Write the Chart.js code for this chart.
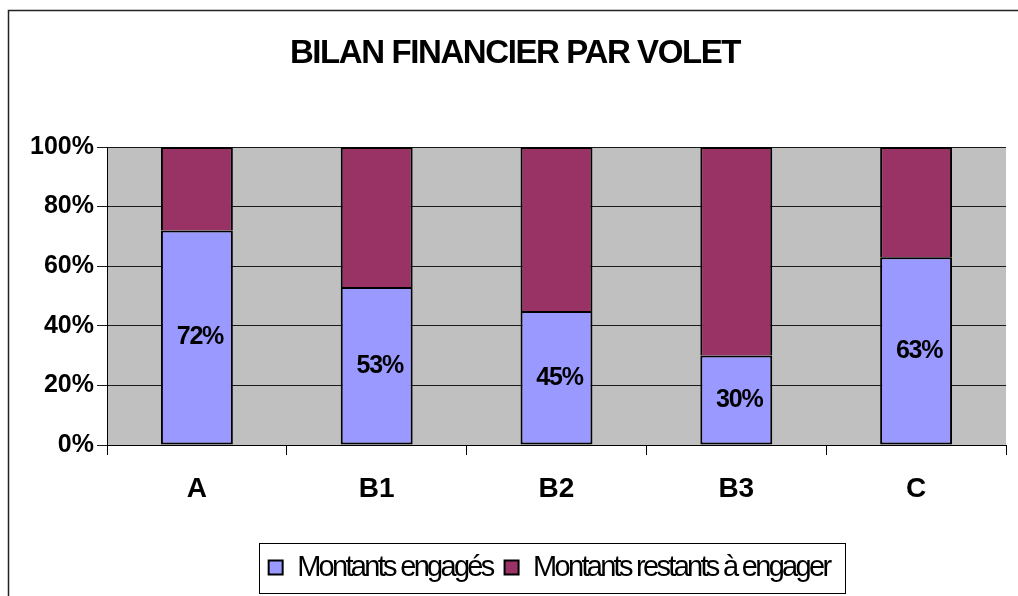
<!DOCTYPE html>
<html>
<head>
<meta charset="utf-8">
<script src="https://cdn.jsdelivr.net/npm/chart.js@4"></script>
<style>
  html, body { margin: 0; padding: 0; background: #fff; }
  #wrap { width: 1018px; height: 596px; position: relative; }
</style>
</head>
<body>
<div id="wrap"><canvas id="bilanChart"></canvas></div>
<script>
// Categories and values
const categories = ['A', 'B1', 'B2', 'B3', 'C'];
const engages = [72, 53, 45, 30, 63];
const restants = [28, 47, 55, 70, 37];
const seriesNames = ['Montants engagés', 'Montants restants à engager'];

// the original text is squeezed, so tighten letters on some boxes
function withSpacing(obj, names, spacing) {
  names.forEach(function (n) {
    const orig = obj[n];
    obj[n] = function () {
      const c = this.ctx;
      const prev = c.letterSpacing;
      c.letterSpacing = spacing;
      try {
        return orig.apply(this, arguments);
      } finally {
        c.letterSpacing = prev;
      }
    };
  });
}

// Grey plot background, white canvas, outer frame, legend box
const framePlugin = {
  id: 'frame',
  afterInit(chart) {
    withSpacing(chart.titleBlock, ['draw'], '-1.4px');
    withSpacing(chart.legend, ['fit', 'draw'], '-2.7px');
  },
  afterLayout(chart) {
    // nudge title and legend to the right like the original
    chart.titleBlock.left += 12;
    chart.titleBlock.right += 12;
    chart.legend.left += 46;
    chart.legend.right += 46;
  },
  beforeDraw(chart) {
    const { ctx, chartArea: a } = chart;
    ctx.save();
    ctx.fillStyle = '#ffffff';
    ctx.fillRect(0, 0, chart.width, chart.height);
    ctx.fillStyle = '#c0c0c0';
    ctx.fillRect(a.left, a.top, a.right - a.left, a.bottom - a.top);
    ctx.restore();
  },
  afterDraw(chart) {
    const ctx = chart.ctx;
    ctx.save();
    ctx.strokeStyle = '#222';
    ctx.lineWidth = 1.5;
    ctx.beginPath();
    ctx.moveTo(8.5, chart.height);
    ctx.lineTo(8.5, 10.5);
    ctx.lineTo(chart.width, 10.5);
    ctx.stroke();

    const boxes = chart.legend.legendHitBoxes;
    if (boxes && boxes.length) {
      const first = boxes[0];
      const last = boxes[boxes.length - 1];
      const cy = first.top + first.height / 2;
      ctx.lineWidth = 1;
      ctx.strokeStyle = '#000';
      ctx.strokeRect(Math.round(first.left - 10) + 0.5, Math.round(cy - 25) + 0.5,
        Math.round(last.left + last.width - first.left + 25), 50);
    }
    ctx.restore();
  },
};

// Percent labels inside the blue segments
const labelPlugin = {
  id: 'segLabels',
  afterDatasetsDraw(chart) {
    const ctx = chart.ctx;
    const meta = chart.getDatasetMeta(0);
    ctx.save();
    ctx.font = 'bold 25px "Liberation Sans", Arial, sans-serif';
    ctx.letterSpacing = '-1.2px';
    ctx.fillStyle = '#000';
    ctx.textAlign = 'center';
    ctx.textBaseline = 'middle';
    meta.data.forEach(function (bar, i) {
      ctx.fillText(engages[i] + '%', bar.x + 3, (bar.y + bar.base) / 2);
    });
    ctx.restore();
  },
};

const ctx = document.getElementById('bilanChart').getContext('2d');
new Chart(ctx, {
  type: 'bar',
  data: {
    labels: categories,
    datasets: [
      {
        label: seriesNames[0],
        data: engages,
        backgroundColor: '#9999ff',
        borderColor: '#000',
        borderWidth: 2,
        borderSkipped: false,
        barPercentage: 0.4,
        categoryPercentage: 1,
      },
      {
        label: seriesNames[1],
        data: restants,
        backgroundColor: '#993366',
        borderColor: '#000',
        borderWidth: 2,
        borderSkipped: 'bottom',
        barPercentage: 0.4,
        categoryPercentage: 1,
      },
    ],
  },
  plugins: [framePlugin, labelPlugin],
  options: {
    responsive: true,
    maintainAspectRatio: false,
    animation: false,
    layout: { padding: { left: 0, right: 12, top: 0, bottom: 4 } },
    plugins: {
      title: {
        display: true,
        text: 'BILAN FINANCIER PAR VOLET',
        color: '#000',
        font: { family: '"Liberation Sans", Arial, sans-serif', size: 33, weight: 'bold' },
        padding: { top: 34.5, bottom: 72.9 },
      },
      legend: {
        position: 'bottom',
        labels: {
          color: '#000',
          font: { family: '"Liberation Sans", Arial, sans-serif', size: 29 },
          boxWidth: 14,
          boxHeight: 14,
          padding: 12,
        },
      },
      tooltip: { enabled: false },
    },
    scales: {
      x: {
        stacked: true,
        afterFit: function (scale) { scale.height = 96; },
        grid: {
          offset: true,
          drawOnChartArea: false,
          color: '#000',
          tickLength: 10,
        },
        border: { color: '#000', width: 1 },
        ticks: {
          color: '#000',
          padding: 17,
          font: { family: '"Liberation Sans", Arial, sans-serif', size: 28, weight: 'bold' },
        },
      },
      y: {
        stacked: true,
        min: 0,
        max: 100,
        afterFit: function (scale) { scale.width = 107; },
        grid: { color: '#1a1a1a', tickLength: 10 },
        border: { color: '#000', width: 1 },
        ticks: {
          stepSize: 20,
          color: '#000',
          padding: 3,
          font: { family: '"Liberation Sans", Arial, sans-serif', size: 25, weight: 'bold' },
          callback: function (v) { return v + '%'; },
        },
      },
    },
  },
});
</script>
</body>
</html>
